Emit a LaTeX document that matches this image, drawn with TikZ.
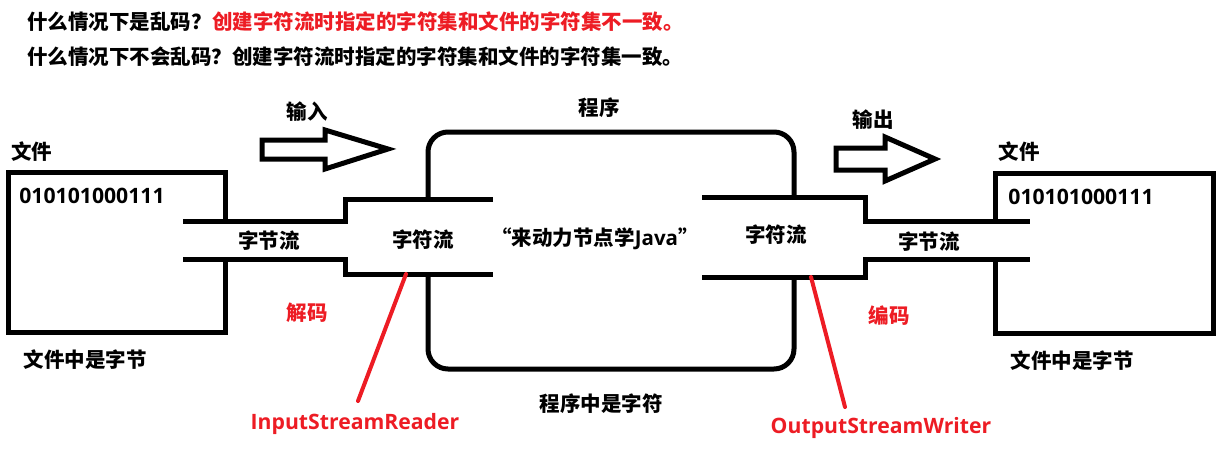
\documentclass[tikz,border=0pt]{standalone}
\usepackage{fontspec}
\setmainfont{Noto Sans CJK SC}
\newfontfamily\latinfont{Open Sans}
\definecolor{codered}{RGB}{237,28,36}
\begin{document}
\begin{tikzpicture}[x=1pt, y=-1pt,
    wall/.style={line width=5pt},
    pointer/.style={codered, line width=4pt, line cap=round},
    label/.style={font=\bfseries\fontsize{20.5}{24}\selectfont, inner sep=0pt},
    latinlabel/.style={font=\latinfont\bfseries\fontsize{21.2}{24}\selectfont, inner sep=0pt}]
    \useasboundingbox (0,0) rectangle (1231,453);

    % Questions
    \node[label, anchor=west] (q1) at (27,22) {什么情况下是乱码？};
    \node[label, anchor=west, text=codered] (a1) at (212,22) {创建字符流时指定的字符集和文件的字符集不一致。};
    \node[label, anchor=west] (q2) at (27,57) {什么情况下不会乱码？创建字符流时指定的字符集和文件的字符集一致。};

    % Left file
    \node[label] (fileL) at (32,152) {文件};
    \node[latinlabel] (bitsL) at (92,196) {010101000111};
    \node[label] (bytesL) at (85,360) {文件中是字节};
    \draw[wall] (225,221) -- (225,172) -- (8,172) -- (8,332) -- (225,332) -- (225,259);

    % Byte and char pipe (input)
    \draw[wall] (183,221) -- (345,221) -- (345,199) -- (493,199);
    \draw[wall] (183,259) -- (345,259) -- (345,274) -- (493,274);
    \node[label] (byteStreamL) at (269,241) {字节流};
    \node[label] (charStreamL) at (423,240) {字符流};
    \node[label, text=codered] (decode) at (307,313) {解码};

    % Input arrow
    \draw[wall, line join=miter] (262,140) -- (325,140) -- (325,130) -- (388,149)
        -- (325,169) -- (325,159) -- (262,159) -- cycle;
    \node[label] (inLabel) at (307,112) {输入};

    % Program
    \node[label] (prog) at (599,108) {程序};
    \draw[wall, rounded corners=20pt] (428,199) -- (428,132) -- (794,132) -- (794,197);
    \draw[wall, rounded corners=20pt] (428,274) -- (428,369) -- (794,369) -- (794,277);
    \node[label] (content) at (595,239) {“来动力节点学{\latinfont Java}”};
    \node[label] (progChars) at (601,404) {程序中是字符};

    % Char and byte pipe (output)
    \draw[wall] (702,197) -- (865,197) -- (865,221) -- (1030,221);
    \draw[wall] (702,277) -- (865,277) -- (865,259) -- (1030,259);
    \node[label] (charStreamR) at (776,235) {字符流};
    \node[label] (byteStreamR) at (929,242) {字节流};
    \node[label, text=codered] (encode) at (889,316) {编码};

    % Output arrow
    \draw[wall, line join=miter] (836,148) -- (885,148) -- (885,137) -- (935,159)
        -- (885,181) -- (885,170) -- (836,170) -- cycle;
    \node[label] (outLabel) at (873,120) {输出};

    % Right file
    \node[label] (fileR) at (1019,152) {文件};
    \node[latinlabel] (bitsR) at (1081,197) {010101000111};
    \node[label] (bytesR) at (1072,361) {文件中是字节};
    \draw[wall] (995,221) -- (995,173) -- (1213,173) -- (1213,333) -- (995,333) -- (995,259);

    % Reader and writer
    \node[latinlabel, text=codered] (reader) at (355,424) {InputStreamReader};
    \node[latinlabel, text=codered] (writer) at (881,428) {OutputStreamWriter};
    \coordinate (readerTop) at (406,274);
    \coordinate (readerEnd) at (358,401);
    \coordinate (writerTop) at (811,277);
    \coordinate (writerEnd) at (845,407);
    \draw[pointer] (readerTop) -- (readerEnd);
    \draw[pointer] (writerTop) -- (writerEnd);
\end{tikzpicture}
\end{document}
